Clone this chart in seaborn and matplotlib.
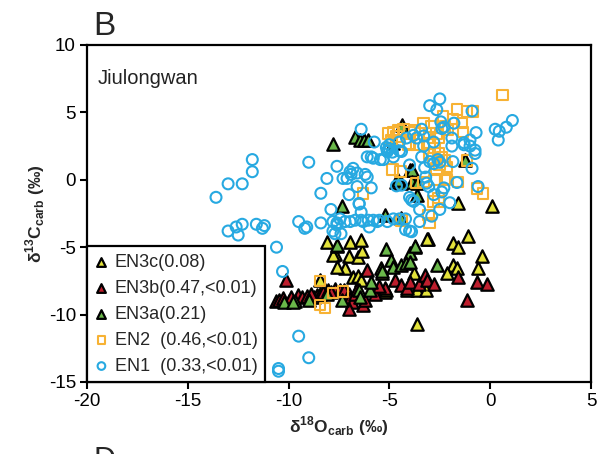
import numpy as np
import pandas as pd
import matplotlib
matplotlib.use("Agg")
import matplotlib.pyplot as plt
import seaborn as sns

# --- DATA ---
en1_x = [-13.6, -13.0, -12.3, -11.8, -11.8, -13.0, -12.6, -12.5, -12.3, -11.6, -11.3, -11.2,
         -10.6, -10.3, -9.5, -9.0, -10.5, -10.5,
         -9.0, -9.5, -9.2, -9.1, -8.4, -8.1, -7.9, -7.6, -8.4, -7.8, -7.6,
         -7.3, -7.1, -6.95, -6.8, -6.6, -6.2, -6.1, -5.9, -6.5, -6.4,
         -6.4, -6.1, -5.9, -5.75, -5.3, -5.1, -5.0, -4.8, -4.4, -4.0,
         -3.4, -3.3, -3.0, -2.65, -2.5, -2.3, -1.8, -1.9, -1.9, -1.3, -1.0, -0.9, -0.7, -0.75, -0.9, -0.6,
         0.25, 0.45, 0.4, 0.8, 1.1,
         -3.65, -3.3, -2.8, -2.45, -2.4, -3.2, -3.15, -2.6, -2.5, -1.85, -1.65, -2.3, -2.4, -2.8, -3.05,
         -4.0, -3.9, -3.8, -3.5, -2.5, -2.0, -4.65, -4.4, -4.2, -3.9, -3.5,
         -4.15, -3.8, -4.5, -5.0, -5.15, -5.1, -4.85, -4.5, -5.8, -5.45, -6.9, -6.6, -3.4, -3.0, -2.8,
         -1.3, -0.75, -1.0, -3.25,
         -7.0, -6.5,
         -7.45, -7.2, -6.95, -6.7, -6.4, -6.3, -6.05, -6.0, -5.8, -5.6, -5.5, -5.1, -4.8, -4.5,
         -7.8, -7.6, -7.7, -7.4, -4.2, -4.0, -2.9]
en1_y = [-1.3, -0.3, -0.3, 0.6, 1.5, -3.8, -3.5, -4.1, -3.3, -3.3, -3.6, -3.4,
         -5.0, -6.8, -11.6, -13.2, -14.0, -14.2,
         1.3, -3.1, -3.6, -3.5, -1.0, 0.1, -2.2, 1.0, -3.2, -3.8, -3.2,
         0.1, 0.1, 0.6, 0.85, -0.5, 0.4, 0.2, -0.6, -1.8, -2.4,
         3.75, 1.7, 1.7, 2.8, 1.5, 2.1, 2.3, 1.7, 2.1, 1.1,
         3.75, 3.25, 5.5, 5.2, 6.0, 3.9, 4.2, 3.1, 2.5, 2.75, 2.95, 5.1, 3.5, 2.2, 0.85, -0.5,
         3.75, 3.6, 2.95, 3.9, 4.4,
         3.1, 2.5, 2.8, 4.3, 3.8, 0.2, -0.25, 1.5, 1.3, 1.35, -0.2, -0.6, -0.9, -1.1, -0.5,
         -1.3, -1.5, -1.6, -2.2, -2.2, -1.7, -0.45, -0.4, -2.9, -3.85, -3.1,
         3.1, 3.3, 2.8, 2.6, 2.4, 2.15, 2.05, 2.15, 1.6, 1.5, 0.4, 0.5, 1.7, 1.35, 1.2,
         2.6, 1.95, 2.5, 0.9,
         -1.1, -1.75,
         -2.9, -3.1, -3.1, -3.0, -3.0, -3.1, -3.0, -3.5, -3.0, -3.1, -3.0, -3.1, -2.9, -2.9,
         -3.1, -3.35, -4.0, -4.0, -3.7, -3.8, -2.7]

en2_x = [0.6, -1.65, -1.15, -0.85, -2.35, -2.9, -1.85, -1.4, -3.3, -1.35, -2.25, -2.1, -3.0, -2.65, -2.55,
         -5.05, -4.8, -4.55, -4.3, -4.0, -3.75, -4.9, -4.65, -4.0,
         -3.0, -2.75, -2.55, -2.4, -2.25, -2.5, -2.65, -2.15, -3.0, -2.8, -1.15,
         -4.85, -4.45, -3.65, -3.3, -2.15, -1.6, -2.75, -2.25, -2.55, -3.65, -4.05, -0.65, -0.35,
         -6.3, -3.0, -3.05, -4.4, -2.55, -2.8,
         -8.45, -7.8, -7.3, -8.45, -8.2]
en2_y = [6.3, 5.2, 5.05, 5.05, 4.7, 3.95, 4.5, 4.2, 4.2, 3.55, 3.95, 3.7, 3.45, 3.45, 3.1,
         3.45, 3.55, 3.7, 3.75, 3.55, 3.7, 2.95, 3.2, 2.7,
         2.7, 2.35, 1.95, 1.7, 1.45, 1.1, 0.85, 0.95, 1.95, 1.6, 1.45,
         0.75, 0.6, -0.25, -0.15, 0.05, -0.15, 0.0, 0.0, -1.35, 2.6, 2.6, -0.65, -1.0,
         -1.0, -3.2, -2.6, -3.0, -1.6, -1.6,
         -7.5, -8.4, -8.3, -9.3, -9.5]

en3a_x = [-7.8, -6.7, -6.45, -6.25, -6.05, -4.35, -4.8, -1.25, -4.0, -3.9, -4.65, -4.4, -3.9, -3.65,
          -4.55, -3.65, -5.2, -4.4, -7.35,
          -7.6, -5.15, -4.0, -3.75, -2.65, -5.4, -4.9, -4.8, -4.4, -4.2, -4.0, -5.35,
          -10.25, -9.7, -9.0, -7.35, -6.5, -5.95, -6.45, -5.9, -9.8, -8.1]
en3a_y = [2.65, 3.2, 2.95, 2.95, 2.95, 4.1, 2.7, 1.45, 0.75, 0.75, -0.15, -0.25, -0.15, -0.25,
          0.0, -1.1, -2.6, -2.85, -1.95,
          -4.85, -5.15, -5.4, -4.9, -6.3, -6.55, -5.95, -6.5, -6.3, -6.15, -6.1, -6.8,
          -9.1, -9.0, -8.9, -8.9, -8.2, -8.2, -8.7, -7.6, -9.1, -8.5]

en3b_x = [-10.15, -10.6, -10.0, -9.55, -9.35, -8.75, -8.6, -8.45, -8.3, -8.05, -7.7, -7.45, -7.25,
          -7.0, -6.95, -6.85, -7.0, -6.7, -6.6, -6.3, -6.1, -4.7, -5.2, -4.4, -4.15,
          -4.0, -3.55, -3.25, -3.15, -2.8, -1.6, -0.65, -0.15, -1.15,
          -10.5, -10.3, -9.9, -9.1, -8.9, -7.9, -5.7, -6.2, -5.5]
en3b_y = [-7.45, -9.0, -9.0, -8.55, -8.7, -8.7, -8.55, -8.45, -8.3, -8.2, -8.1, -8.2, -8.2,
          -8.5, -8.8, -9.05, -9.6, -8.5, -8.1, -9.3, -6.7, -7.45, -8.0, -7.8, -8.0,
          -7.55, -7.7, -7.05, -7.45, -7.7, -7.2, -7.55, -7.7, -8.9,
          -8.9, -8.8, -8.7, -8.6, -8.5, -8.3, -8.5, -8.9, -7.9]

en3c_x = [-8.1, -7.7, -6.95, -7.0, -6.55, -6.35, -7.2, -6.8, -6.55, -7.8, -7.6, -6.4,
          -3.75, -3.1, -1.85, -1.6, -1.1, -0.4, -0.6, -1.85, -2.15, -1.65, -3.8, -5.35,
          -3.65, -8.45, -5.2, -4.15, -3.65, -3.2, -5.15, -3.15,
          0.1, -1.6, -7.6, -6.4]
en3c_y = [-4.6, -5.5, -4.6, -5.65, -5.7, -5.25, -6.55, -7.2, -7.1, -5.6, -6.45, -4.45,
          -4.95, -4.4, -4.7, -4.95, -4.15, -5.65, -6.55, -6.3, -6.95, -6.55, -6.95, -6.9,
          -10.7, -7.45, -8.3, -8.2, -8.2, -8.2, -8.15, -4.4,
          -1.95, -1.75, -4.9, -7.45]

labels = ["EN3c(0.08)", "EN3b(0.47,<0.01)", "EN3a(0.21)", "EN2  (0.46,<0.01)", "EN1  (0.33,<0.01)"]

# --- STYLE ---
sns.set_style("white")
plt.rcParams["font.family"] = ["Liberation Sans", "DejaVu Sans"]
plt.rcParams["axes.unicode_minus"] = False
plt.rcParams["mathtext.fontset"] = "custom"
plt.rcParams["mathtext.rm"] = "Liberation Sans"
plt.rcParams["mathtext.bf"] = "Liberation Sans:bold"

blue = "#27A9E1"
orange = "#F7B234"
yellow = "#E3E23A"
red = "#BE1E2D"
green = "#6AB84A"

fig = plt.figure(figsize=(6.02, 4.54), dpi=100)
ax = fig.add_axes([0.1445, 0.1586, 0.8372, 0.7423])

tri_kw = dict(marker="^", s=80, edgecolor="black", linewidth=1.6, ax=ax)
sns.scatterplot(x=en3c_x, y=en3c_y, color=yellow, label=labels[0], **tri_kw)
sns.scatterplot(x=en3b_x, y=en3b_y, color=red, label=labels[1], **tri_kw)
sns.scatterplot(x=en3a_x, y=en3a_y, color=green, label=labels[2], **tri_kw)
sns.scatterplot(x=en2_x, y=en2_y, marker="s", s=58, facecolor="none", edgecolor=orange,
                linewidth=1.5, label=labels[3], ax=ax)
sns.scatterplot(x=en1_x, y=en1_y, marker="o", s=62, facecolor="none", edgecolor=blue,
                linewidth=1.5, label=labels[4], ax=ax)

ax.set_xlim(-20, 5)
ax.set_ylim(-15, 10)
ax.set_xticks(np.arange(-20, 6, 5))
ax.set_yticks(np.arange(-15, 11, 5))
ax.tick_params(axis="both", direction="out", length=5, width=1.5, labelsize=13.5,
               bottom=True, left=True, colors="black", pad=3)
for sp in ax.spines.values():
    sp.set_visible(True)
    sp.set_color("black")
    sp.set_linewidth(1.6)

ax.set_xlabel(r"δ$^{\mathbf{18}}$O$_{\mathbf{carb}}$ (‰)", fontsize=12.5, fontweight="bold", labelpad=3)
ax.set_ylabel(r"δ$^{\mathbf{13}}$C$_{\mathbf{carb}}$ (‰)", fontsize=12.5, fontweight="bold", labelpad=1)

ax.text(0.022, 0.93, "Jiulongwan", transform=ax.transAxes, fontsize=14.5, color="#222222",
        va="top", ha="left")
fig.text(0.155, 0.975, "B", fontsize=24, va="top", ha="left")
fig.text(0.155, 0.017, "D", fontsize=22, va="top", ha="left")

leg = ax.legend(loc="lower left", borderaxespad=0, fontsize=13, frameon=True, fancybox=False,
                edgecolor="black", framealpha=1, markerscale=0.7, handletextpad=0.35,
                handlelength=0.8, labelspacing=0.5, borderpad=0.4)
leg.get_frame().set_linewidth(1.6)

fig.savefig("out.png", dpi=100)
